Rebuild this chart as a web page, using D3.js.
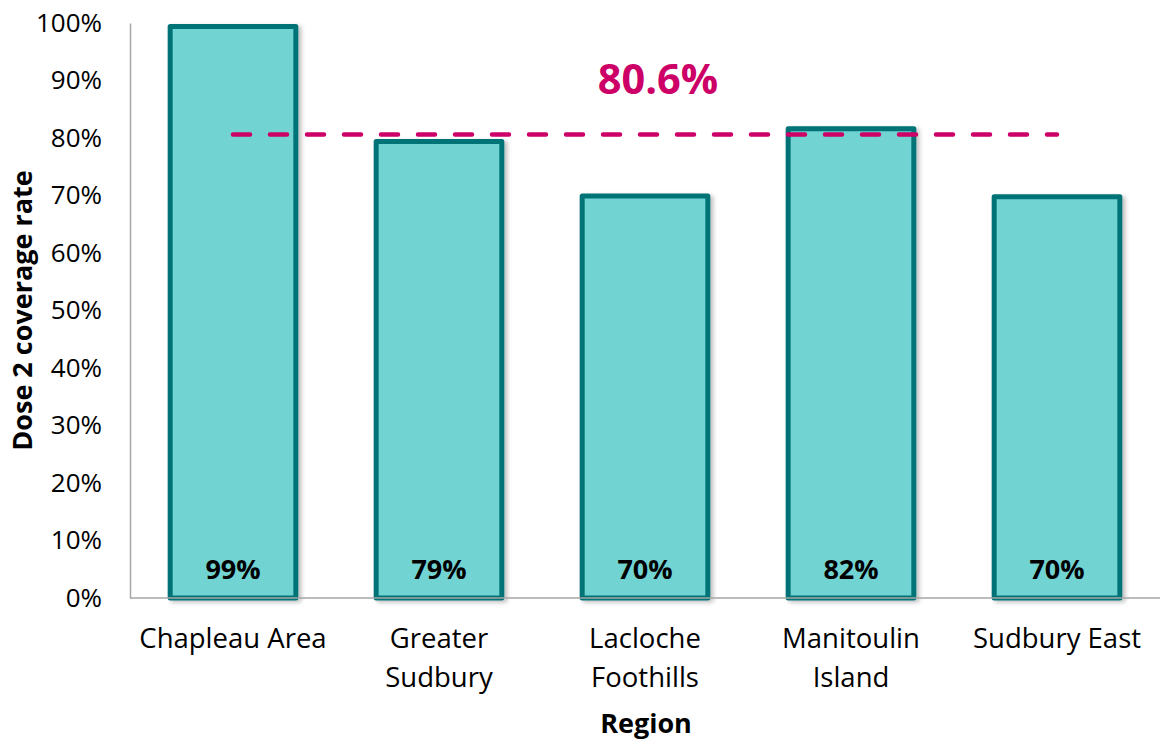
<!DOCTYPE html>
<html>
<head>
<meta charset="utf-8">
<script src="https://cdn.jsdelivr.net/npm/d3@7"></script>
<style>
  body { margin: 0; background: #fff; }
  svg { display: block; font-family: "Open Sans", Lato, sans-serif; }
</style>
</head>
<body>
<script>
// chart data
var regions = [["Chapleau Area"], ["Greater", "Sudbury"], ["Lacloche", "Foothills"], ["Manitoulin", "Island"], ["Sudbury East"]];
var coverage = [0.994, 0.794, 0.699, 0.816, 0.698];
var average = 0.806;
var yTicks = [0, 0.1, 0.2, 0.3, 0.4, 0.5, 0.6, 0.7, 0.8, 0.9, 1];

const width = 1160;
const height = 741;
const margin = { top: 23, right: 0, bottom: 143, left: 130 };
const font = "'Open Sans', Lato, sans-serif";

var svg = d3.select("body").append("svg")
    .attr("width", width)
    .attr("height", height);

// soft shadow like the original bars
var filter = svg.append("defs").append("filter")
    .attr("id", "shadow")
    .attr("x", "-10%").attr("y", "-10%")
    .attr("width", "130%").attr("height", "130%");
filter.append("feDropShadow")
    .attr("dx", 3).attr("dy", 2)
    .attr("stdDeviation", 2)
    .attr("flood-color", "#000")
    .attr("flood-opacity", 0.25);

var x = d3.scaleBand()
    .domain(d3.range(regions.length))
    .range([margin.left, width - margin.right])
    .paddingInner(0.39)
    .paddingOuter(0.195);

var y = d3.scaleLinear()
    .domain([0, 1])
    .range([height - margin.bottom, margin.top]);

// y axis
var yAxis = svg.append("g")
    .attr("transform", "translate(" + margin.left + ",0)")
    .call(d3.axisLeft(y).tickValues(yTicks).tickFormat(d3.format(".0%")).tickSize(0).tickPadding(28));
yAxis.select(".domain").attr("stroke", "#a6a6a6").attr("stroke-width", 1.5);
yAxis.selectAll("text")
    .attr("font-size", 26)
    .attr("fill", "#000")
    .attr("font-family", font);

// bars
var bars = svg.selectAll(".bar")
    .data(coverage)
    .enter().append("rect")
    .attr("class", "bar")
    .attr("x", function (d, i) { return x(i); })
    .attr("y", function (d) { return y(d); })
    .attr("width", x.bandwidth())
    .attr("height", function (d) { return y(0) - y(d); })
    .attr("fill", "#72d3d3")
    .attr("stroke", "#007377")
    .attr("stroke-width", 5)
    .attr("stroke-linejoin", "round")
    .attr("filter", "url(#shadow)");

// x axis line (drawn over the bar bottoms)
svg.append("line")
    .attr("x1", margin.left)
    .attr("x2", width)
    .attr("y1", y(0))
    .attr("y2", y(0))
    .attr("stroke", "#a6a6a6")
    .attr("stroke-width", 1.5);

// value labels inside bars
svg.selectAll(".val")
    .data(coverage)
    .enter().append("text")
    .attr("class", "val")
    .attr("x", function (d, i) { return x(i) + x.bandwidth() / 2; })
    .attr("y", y(0) - 19)
    .attr("text-anchor", "middle")
    .attr("font-size", 27)
    .attr("font-weight", "bold")
    .text(function (d) { return Math.round(d * 100) + "%"; });

// category labels
var cat = svg.selectAll(".cat")
    .data(regions)
    .enter().append("text")
    .attr("class", "cat")
    .attr("text-anchor", "middle")
    .attr("font-size", 27.5)
    .attr("fill", "#000");
cat.selectAll("tspan")
    .data(function (d, i) { return d.map(function (t) { return { t: t, i: i }; }); })
    .enter().append("tspan")
    .attr("x", function (d) { return x(d.i) + x.bandwidth() / 2; })
    .attr("y", function (d, j) { return 648 + j * 39; })
    .text(function (d) { return d.t; });

// average line
var avgY = y(average);
svg.append("line")
    .attr("x1", x(0) + x.bandwidth() / 2)
    .attr("x2", x(regions.length - 1) + x.bandwidth() / 2)
    .attr("y1", avgY)
    .attr("y2", avgY)
    .attr("stroke", "#cc0066")
    .attr("stroke-width", 4.5)
    .attr("stroke-linecap", "round")
    .attr("stroke-dasharray", "17,20");

svg.append("text")
    .attr("x", 658)
    .attr("y", avgY - 41)
    .attr("text-anchor", "middle")
    .attr("font-size", 41.5)
    .attr("font-weight", "bold")
    .attr("fill", "#cc0066")
    .text(d3.format(".1%")(average));

// axis titles
svg.append("text")
    .attr("x", 646)
    .attr("y", 733)
    .attr("text-anchor", "middle")
    .attr("font-size", 27)
    .attr("font-weight", "bold")
    .text("Region");

svg.append("text")
    .attr("transform", "translate(32," + ((y(0) + y(1)) / 2) + ") rotate(-90)")
    .attr("text-anchor", "middle")
    .attr("font-size", 27)
    .attr("font-weight", "bold")
    .text("Dose 2 coverage rate");
</script>
</body>
</html>
